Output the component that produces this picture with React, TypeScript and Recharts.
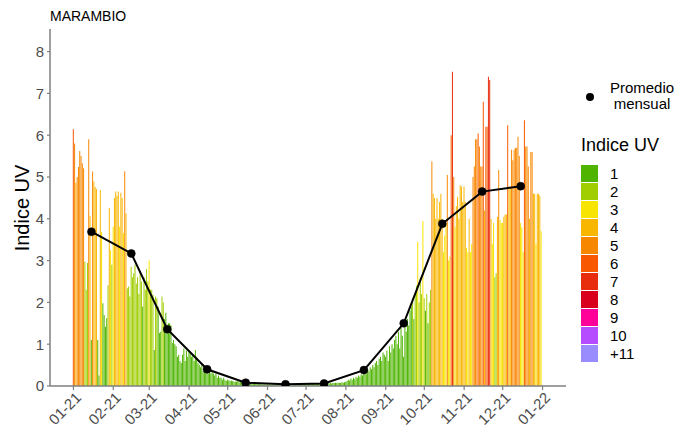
import React from 'react';
import { ComposedChart, Bar, Line, XAxis, YAxis, Cell } from 'recharts';

// Daily UV index values (2021), by month
const jan = [6.14, 5.8, 4.86, 5.0, 5.24, 5.62, 5.5, 5.33, 5.21, 2.97, 2.3, 2.94, 5.9, 4.07, 1.1, 5.13, 4.89, 4.76, 4.71, 1.1, 0.25, 4.69, 3.69, 1.98, 1.7, 1.42, 1.62, 2.41, 4.26, 3.25, 2.9];
const feb = [3.81, 4.5, 4.65, 4.55, 4.65, 3.81, 4.62, 4.5, 3.66, 5.14, 4.13, 2.34, 2.38, 2.14, 2.85, 2.6, 2.7, 2.9, 2.45, 2.6, 2.2, 2.75, 2.5, 1.9, 2.6, 2.3, 2.8, 2.5];
const mar = [3.0, 2.3, 2.3, 2.18, 0.86, 2.14, 2.1, 1.9, 1.27, 1.3, 2.14, 2.0, 1.6, 1.75, 1.35, 1.5, 1.5, 1.45, 1.03, 1.1, 1.0, 0.95, 0.7, 0.75, 0.6, 0.55, 0.75, 0.9, 0.6, 0.85, 0.7];
const apr = [0.85, 0.8, 0.7, 0.75, 0.6, 0.86, 0.7, 0.55, 0.5, 0.45, 0.5, 0.35, 0.45, 0.4, 0.35, 0.3, 0.4, 0.3, 0.35, 0.3, 0.25, 0.3, 0.2, 0.25, 0.2, 0.2, 0.15, 0.2, 0.15, 0.12];
const may = [0.15, 0.14, 0.12, 0.13, 0.12, 0.1, 0.11, 0.1, 0.12, 0.09, 0.1, 0.08, 0.09, 0.08, 0.07, 0.08, 0.07, 0.06, 0.07, 0.06, 0.05, 0.06, 0.05, 0.05, 0.04, 0.05, 0.04, 0.04, 0.03, 0.04, 0.03];
const jun = [0.04, 0.03, 0.04, 0.03, 0.03, 0.04, 0.03, 0.03, 0.04, 0.03, 0.03, 0.03, 0.03, 0.04, 0.03, 0.03, 0.04, 0.03, 0.04, 0.04, 0.04, 0.05, 0.04, 0.05, 0.04, 0.05, 0.05, 0.04, 0.05, 0.05];
const jul = [0.04, 0.05, 0.04, 0.05, 0.05, 0.04, 0.05, 0.06, 0.05, 0.05, 0.06, 0.05, 0.06, 0.06, 0.05, 0.06, 0.07, 0.06, 0.06, 0.07, 0.06, 0.07, 0.07, 0.08, 0.07, 0.08, 0.08, 0.07, 0.09, 0.08, 0.09];
const aug = [0.1, 0.12, 0.15, 0.13, 0.18, 0.15, 0.2, 0.17, 0.22, 0.2, 0.25, 0.22, 0.28, 0.25, 0.3, 0.35, 0.28, 0.4, 0.35, 0.45, 0.4, 0.5, 0.45, 0.55, 0.6, 0.5, 0.65, 0.7, 0.6, 0.8, 0.75];
const sep = [0.7, 0.85, 0.6, 0.95, 0.8, 1.0, 0.9, 1.1, 1.2, 1.0, 1.3, 0.9, 1.4, 1.2, 0.7, 1.5, 1.3, 1.6, 1.45, 1.8, 1.9, 2.1, 1.6, 2.2, 2.4, 3.45, 2.0, 2.6, 2.2, 3.95];
const oct = [2.1, 1.8, 2.2, 1.5, 2.0, 2.3, 5.37, 4.6, 4.5, 4.0, 4.5, 4.0, 4.4, 4.6, 4.0, 3.2, 3.6, 3.9, 5.05, 3.0, 3.1, 6.0, 7.52, 5.0, 3.8, 4.3, 4.53, 4.0, 4.8, 4.77, 4.4];
const nov = [4.77, 4.4, 3.3, 3.2, 4.0, 3.2, 3.4, 5.0, 5.25, 5.9, 5.9, 6.04, 5.73, 5.25, 5.25, 6.8, 4.2, 6.2, 6.2, 7.4, 7.32, 4.0, 3.4, 3.9, 2.6, 2.7, 4.05, 5.17, 3.97, 3.9];
const dec = [3.9, 4.05, 4.1, 4.1, 6.24, 4.77, 4.77, 5.65, 5.4, 5.65, 5.7, 5.7, 5.96, 5.5, 3.9, 3.8, 3.2, 6.36, 5.73, 5.73, 5.25, 4.0, 5.6, 5.6, 4.6, 4.6, 3.4, 4.6, 4.6, 4.55, 3.7];

// Monthly averages (plotted mid-month)
const monthlyAvg = [3.69, 3.17, 1.36, 0.40, 0.08, 0.04, 0.06, 0.38, 1.50, 3.88, 4.65, 4.78];

// Axis ticks
const monthStartDays = [0, 31, 59, 90, 120, 151, 181, 212, 243, 273, 304, 334, 365];
const tickLabels = ['01-21', '02-21', '03-21', '04-21', '05-21', '06-21', '07-21', '08-21', '09-21', '10-21', '11-21', '12-21', '01-22'];
const yTicks = [0, 1, 2, 3, 4, 5, 6, 7, 8];

// UV categories
const uvLevels = ['1', '2', '3', '4', '5', '6', '7', '8', '9', '10', '+11'];
const uvColors = ['#4eb400', '#a0ce00', '#f7e400', '#f8b600', '#f88700', '#f85900', '#e82c0e', '#d8001d', '#ff0099', '#b54cff', '#998cff'];

const daily = [...jan, ...feb, ...mar, ...apr, ...may, ...jun, ...jul, ...aug, ...sep, ...oct, ...nov, ...dec];
const data: { day: number; uv: number; avg: number | null }[] = daily.map((uv, i) => ({ day: i, uv, avg: null }));
monthlyAvg.forEach((v, m) => {
  data[monthStartDays[m] + 14].avg = v;
});

const colorFor = (v: number) => uvColors[Math.min(11, Math.max(1, Math.floor(v))) - 1];

const FONT = '"Liberation Sans", Arial, sans-serif';
const AXIS = '#7f7f7f';

const XTick = (props: any) => {
  const { x, y, payload } = props;
  const idx = monthStartDays.indexOf(payload.value);
  return (
    <text
      x={x}
      y={y}
      transform={`rotate(-45 ${x} ${y})`}
      textAnchor="end"
      dy="0.72em"
      dx="0.1em"
      fontSize={15}
      fontFamily={FONT}
      fill="#4d4d4d"
    >
      {tickLabels[idx]}
    </text>
  );
};

export default function App() {
  return (
    <div style={{ position: 'absolute', left: 0, top: 0, width: 692, height: 432, background: '#fff', fontFamily: FONT }}>
      <ComposedChart
        width={692}
        height={432}
        data={data}
        margin={{ top: 29, right: 126, bottom: 0, left: 0 }}
        barCategoryGap={0}
        barGap={0}
      >
        <XAxis
          dataKey="day"
          type="number"
          domain={[-18.25, 383.25]}
          ticks={monthStartDays}
          allowDataOverflow
          interval={0}
          height={46}
          tickSize={4}
          tickMargin={2}
          axisLine={{ stroke: AXIS, strokeWidth: 1.5 }}
          tickLine={{ stroke: AXIS, strokeWidth: 1.2 }}
          tick={<XTick />}
        />
        <YAxis
          type="number"
          domain={[0, 8.54]}
          ticks={yTicks}
          allowDataOverflow
          width={50}
          tickSize={3}
          tickMargin={3}
          axisLine={{ stroke: AXIS, strokeWidth: 1.5 }}
          tickLine={{ stroke: AXIS, strokeWidth: 1.2 }}
          tick={{ fontSize: 15, fill: '#4d4d4d', fontFamily: FONT }}
        />
        <Bar dataKey="uv" isAnimationActive={false}>
          {data.map((d, i) => (
            <Cell key={i} fill={colorFor(d.uv)} />
          ))}
        </Bar>
        <Line
          dataKey="avg"
          type="linear"
          stroke="#000"
          strokeWidth={2}
          connectNulls
          dot={{ r: 4, fill: '#000', stroke: '#000', strokeWidth: 0.5 }}
          activeDot={false}
          isAnimationActive={false}
        />
      </ComposedChart>

      <div style={{ position: 'absolute', left: 50, top: 8, fontSize: 14, color: '#000', whiteSpace: 'nowrap' }}>MARAMBIO</div>

      <div
        style={{
          position: 'absolute',
          left: 22,
          top: 208,
          transform: 'translate(-50%, -50%) rotate(-90deg)',
          fontSize: 20,
          color: '#000',
          whiteSpace: 'nowrap',
        }}
      >
        Indice UV
      </div>

      <div style={{ position: 'absolute', left: 580, top: 80, width: 112 }}>
        <div style={{ position: 'relative', height: 36 }}>
          <div style={{ position: 'absolute', left: 6, top: 13, width: 8, height: 8, borderRadius: 4, background: '#000' }} />
          <div style={{ position: 'absolute', left: 22, top: 0, width: 80, textAlign: 'center', fontSize: 15, lineHeight: '16px', color: '#000' }}>
            Promedio
            <br />
            mensual
          </div>
        </div>
        <div style={{ position: 'absolute', left: 1, top: 55, fontSize: 18, color: '#000', whiteSpace: 'nowrap' }}>Indice UV</div>
        {uvLevels.map((lab, i) => (
          <div key={lab} style={{ position: 'absolute', left: 1, top: 84 + i * 18, height: 18, display: 'flex', alignItems: 'center' }}>
            <div style={{ width: 17, height: 17, background: uvColors[i] }} />
            <div style={{ marginLeft: 12, fontSize: 15, color: '#000' }}>{lab}</div>
          </div>
        ))}
      </div>
    </div>
  );
}
